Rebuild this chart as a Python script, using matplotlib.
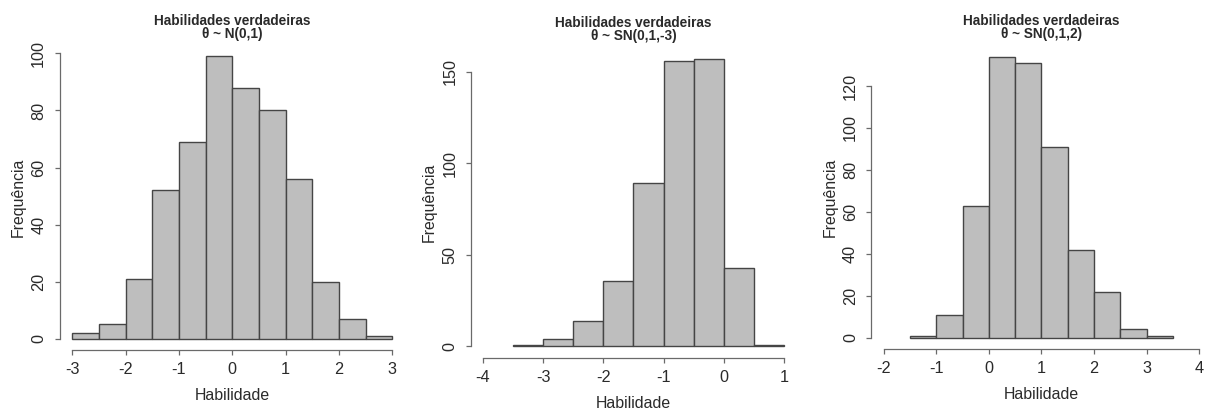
import numpy as np
import matplotlib.pyplot as plt

plt.rcParams['font.family'] = ['Liberation Sans', 'DejaVu Sans']
plt.rcParams['axes.unicode_minus'] = False

# histogram breaks and counts (500 simulated abilities per panel)
breaks_n = [-3.0, -2.5, -2.0, -1.5, -1.0, -0.5, 0.0, 0.5, 1.0, 1.5, 2.0, 2.5, 3.0]
counts_n = [2, 5, 21, 52, 69, 99, 88, 80, 56, 20, 7, 1]

breaks_sn_neg = [-3.5, -3.0, -2.5, -2.0, -1.5, -1.0, -0.5, 0.0, 0.5, 1.0]
counts_sn_neg = [1, 4, 14, 36, 89, 156, 157, 43, 1]

breaks_sn_pos = [-1.5, -1.0, -0.5, 0.0, 0.5, 1.0, 1.5, 2.0, 2.5, 3.0, 3.5]
counts_sn_pos = [1, 11, 63, 134, 131, 91, 42, 22, 4, 1]

titles = ['Habilidades verdadeiras\nθ ~ N(0,1)',
          'Habilidades verdadeiras\nθ ~ SN(0,1,-3)',
          'Habilidades verdadeiras\nθ ~ SN(0,1,2)']
xticks_all = [[-3, -2, -1, 0, 1, 2, 3],
              [-4, -3, -2, -1, 0, 1],
              [-2, -1, 0, 1, 2, 3, 4]]
yticks_all = [[0, 20, 40, 60, 80, 100],
              [0, 50, 100, 150],
              [0, 20, 40, 60, 80, 100, 120]]

panels = [(breaks_n, counts_n), (breaks_sn_neg, counts_sn_neg), (breaks_sn_pos, counts_sn_pos)]
rects = [[0.0493, 0.1443, 0.2860, 0.7457],
         [0.3899, 0.1247, 0.2690, 0.7597],
         [0.7213, 0.1467, 0.2817, 0.7423]]

txt = '#2a2a2a'
axc = '#6a6a6a'

fig = plt.figure(figsize=(12.08, 4.09), dpi=100)

for (br, cnt), rect, title, xt, yt in zip(panels, rects, titles, xticks_all, yticks_all):
    ax = fig.add_axes(rect)
    br = np.array(br)
    cnt = np.array(cnt)
    ax.bar(br[:-1], cnt, width=np.diff(br), align='edge',
           color='#bebebe', edgecolor='#454545', linewidth=1.0)

    # R-style 4% padding around the ranges
    x0, x1 = xt[0], xt[-1]
    dx = 0.04 * (x1 - x0)
    ax.set_xlim(x0 - dx, x1 + dx)
    ymax = cnt.max()
    ax.set_ylim(-0.04 * ymax, 1.04 * ymax)

    for s in ['top', 'right']:
        ax.spines[s].set_visible(False)
    for s in ['left', 'bottom']:
        ax.spines[s].set_color(axc)
        ax.spines[s].set_linewidth(0.9)
    ax.spines['bottom'].set_bounds(xt[0], xt[-1])
    ax.spines['left'].set_bounds(yt[0], yt[-1])

    ax.set_xticks(xt)
    ax.set_yticks(yt)
    ax.tick_params(axis='both', length=3.6, width=0.9, color=axc,
                   labelsize=11.7, labelcolor=txt)
    ax.tick_params(axis='x', pad=5.0)
    ax.tick_params(axis='y', pad=6.0, labelrotation=90)
    for lab in ax.get_yticklabels():
        lab.set_va('center')

    ax.set_xlabel('Habilidade', fontsize=11.4, color=txt, labelpad=8)
    ax.set_ylabel('Frequência', fontsize=11.4, color=txt, labelpad=4)
    ax.set_title(title, fontsize=9.8, fontweight='bold', color=txt,
                 linespacing=0.95, pad=5)

fig.savefig('out.png', dpi=100)
plt.close(fig)
